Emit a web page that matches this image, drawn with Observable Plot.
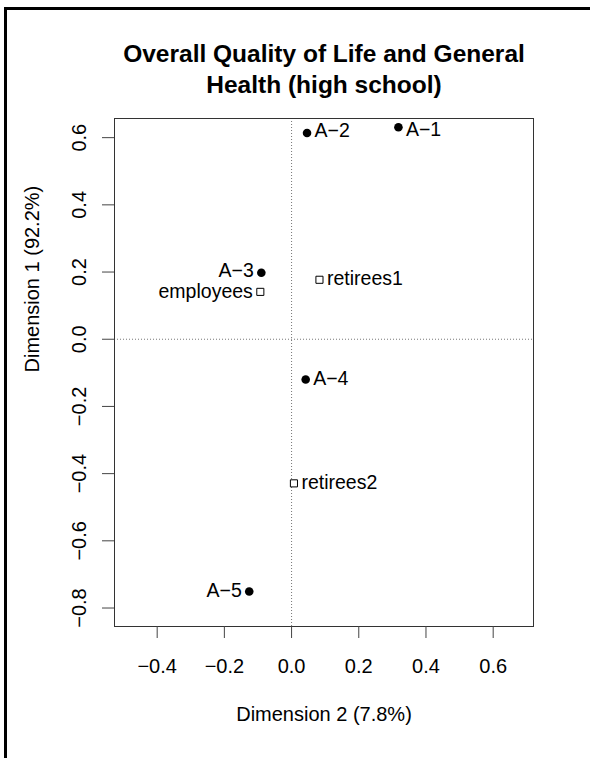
<!DOCTYPE html>
<html>
<head>
<meta charset="utf-8">
<script src="https://cdn.jsdelivr.net/npm/d3@7"></script>
<script src="https://cdn.jsdelivr.net/npm/@observablehq/plot@0.6"></script>
<style>
  html, body { margin: 0; padding: 0; background: #fff; }
  #wrap { position: relative; width: 590px; height: 758px; overflow: hidden; background: #fff; }
  #border { position: absolute; left: 4px; top: 7px; width: 1000px; height: 1000px;
            border-top: 3px solid #000; border-left: 3px solid #000; }
  #chart { position: absolute; left: 0; top: 0; }
</style>
</head>
<body>
<div id="wrap"><div id="border"></div><div id="chart"></div></div>
<script>
// ---- data ----
const titleLines = ["Overall Quality of Life and General", "Health (high school)"];
const xLabel = "Dimension 2 (7.8%)";
const yLabel = "Dimension 1 (92.2%)";

const rowNames = ["A−1", "A−2", "A−3", "A−4", "A−5"];
const rowX = [0.318, 0.046, -0.090, 0.042, -0.126];
const rowY = [0.631, 0.614, 0.198, -0.120, -0.751];
const rowSide = ["right", "right", "left", "right", "left"];
const rowNudge = [3, -2, -2, -1, -1];

const colNames = ["employees", "retirees1", "retirees2"];
const colX = [-0.093, 0.083, 0.007];
const colY = [0.141, 0.177, -0.429];
const colSide = ["left", "right", "right"];
const colNudge = [0, -1, -1];

const xTicks = [-0.4, -0.2, 0.0, 0.2, 0.4, 0.6];
const yTicks = [-0.8, -0.6, -0.4, -0.2, 0.0, 0.2, 0.4, 0.6];
const xDomain = [-0.527, 0.720];
const yDomain = [-0.855, 0.657];

// ---- build tables ----
const rows = rowNames.map((n, i) => ({name: n, x: rowX[i], y: rowY[i], side: rowSide[i], nudge: rowNudge[i]}));
const cols = colNames.map((n, i) => ({name: n, x: colX[i], y: colY[i], side: colSide[i], nudge: colNudge[i]}));
const all = rows.concat(cols);
const fmt = d3.format(".1f");
const font = "'Liberation Sans', Arial, Helvetica, sans-serif";
const fs = 20;

// one text mark per label so each can carry its own small nudge
const labelMarks = all.map(d => Plot.text([d], {
  x: "x", y: "y", text: "name",
  dx: d.side === "right" ? 7.5 : -7.5, dy: d.nudge,
  textAnchor: d.side === "right" ? "start" : "end",
  lineAnchor: "middle", fontSize: fs - 0.5, fill: "#000"
}));

const chart = Plot.plot({
  width: 590, height: 758,
  marginLeft: 114, marginRight: 57, marginTop: 118, marginBottom: 132,
  x: {domain: xDomain},
  y: {domain: yDomain},
  style: {fontFamily: font, fontSize: fs + "px", background: "transparent", color: "#000"},
  marks: [
    Plot.ruleX([0], {stroke: "#777", strokeDasharray: "1,2"}),
    Plot.ruleY([0], {stroke: "#777", strokeDasharray: "1,2"}),
    Plot.frame({stroke: "#333"}),
    Plot.axisX(xTicks, {tickSize: 12, tickPadding: 20, tickFormat: fmt, label: null,
      fontSize: fs, stroke: "#444", fill: "#000"}),
    Plot.axisY(yTicks, {tickSize: 12, tickFormat: () => "", label: null, stroke: "#444"}),
    Plot.text(yTicks, {y: d => d, text: d => fmt(d), frameAnchor: "left", dx: -35,
      rotate: -90, textAnchor: "middle", lineAnchor: "middle", fontSize: fs, fill: "#000"}),
    Plot.dot(rows, {x: "x", y: "y", r: 4.3, fill: "#000", stroke: "none"}),
    Plot.dot(cols, {x: "x", y: "y", r: 4, symbol: "square", fill: "#fff", stroke: "#000", strokeWidth: 1}),
    ...labelMarks,
    Plot.text([xLabel], {frameAnchor: "bottom", dy: 88, lineAnchor: "middle", fontSize: fs, fill: "#000"}),
    Plot.text([yLabel], {frameAnchor: "left", dx: -82, rotate: -90, lineAnchor: "middle", fontSize: fs, fill: "#000"}),
    Plot.text([titleLines[0]], {frameAnchor: "top", dy: -64.6, lineAnchor: "middle",
      fontSize: 24.5, fontWeight: "bold", fill: "#000"}),
    Plot.text([titleLines[1]], {frameAnchor: "top", dy: -33.4, lineAnchor: "middle",
      fontSize: 24.5, fontWeight: "bold", fill: "#000"})
  ]
});
document.getElementById("chart").appendChild(chart);
</script>
</body>
</html>
